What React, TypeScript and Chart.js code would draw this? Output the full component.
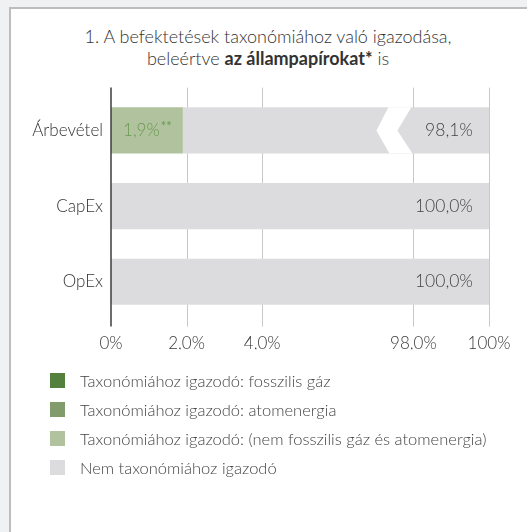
import React, { useEffect, useRef } from 'react';
import { Chart, registerables } from 'chart.js';

Chart.register(...registerables);

// ---- data ----
const categories = ['Árbevétel', 'CapEx', 'OpEx'];
const fossilGas = [0, 0, 0];
const nuclear = [0, 0, 0];
const alignedOther = [1.9, 0, 0];
const notAligned = [98.1, 100, 100];
const xTickValues = [0, 2, 4, 98, 100];
const xTickLabels = ['0%', '2,0%', '4,0%', '98,0%', '100%'];
const brokenBars = ['Árbevétel'];
const seriesNames = [
  'Taxonómiához igazodó: fosszilis gáz',
  'Taxonómiához igazodó: atomenergia',
  'Taxonómiához igazodó: (nem fosszilis gáz és atomenergia)',
  'Nem taxonómiához igazodó',
];
const seriesColors = ['#53803d', '#819b6b', '#b1c29e', '#dcdcde'];

const FONT = 'Lato, "Noto Sans", sans-serif';

// broken axis: 0..4 % -> 0..2 units, 98..100 % -> 4..5 units
const mapPct = (v: number) =>
  v <= 4 ? v / 2 : v >= 98 ? 4 + (v - 98) / 2 : 2 + ((v - 4) / 94) * 2;
const fmt = (v: number) => v.toFixed(1).replace('.', ',');

const seriesValues = [fossilGas, nuclear, alignedOther, notAligned];

function buildDatasets() {
  const cum = categories.map(() => 0);
  return seriesValues.map((vals, si) => {
    const data = vals.map((v, i) => {
      const s = cum[i];
      const e = s + v;
      cum[i] = e;
      return [mapPct(s), mapPct(e)];
    });
    return {
      label: seriesNames[si],
      data,
      backgroundColor: seriesColors[si],
      borderWidth: 0,
      barPercentage: 0.61,
      categoryPercentage: 1,
    };
  });
}

const customPlugin = {
  id: 'customDraw',
  beforeDatasetsDraw(chart: any) {
    const { ctx, chartArea, scales } = chart;
    const x = scales.x;
    ctx.save();
    ctx.strokeStyle = '#c8c8c8';
    ctx.lineWidth = 1;
    xTickValues.forEach((v, i) => {
      if (i === 0) return;
      const px = Math.round(x.getPixelForValue(mapPct(v))) + 0.5;
      ctx.beginPath();
      ctx.moveTo(px, chartArea.top - 5);
      ctx.lineTo(px, chartArea.bottom + 7);
      ctx.stroke();
    });
    ctx.restore();
  },
  afterDatasetsDraw(chart: any) {
    const { ctx, chartArea, scales } = chart;
    const x = scales.x;
    ctx.save();
    // break marks
    const gapPx = x.getPixelForValue(mapPct(98));
    const notMeta = chart.getDatasetMeta(3);
    categories.forEach((c, i) => {
      if (!brokenBars.includes(c)) return;
      const el = notMeta.data[i];
      const { y, height } = el.getProps(['y', 'height'], true);
      const t = y - height / 2;
      const b = y + height / 2;
      ctx.fillStyle = '#ffffff';
      ctx.beginPath();
      ctx.moveTo(gapPx - 25, t);
      ctx.lineTo(gapPx - 2, t);
      ctx.lineTo(gapPx - 16, y);
      ctx.lineTo(gapPx - 1, b);
      ctx.lineTo(gapPx - 24, b);
      ctx.lineTo(gapPx - 37, y);
      ctx.closePath();
      ctx.fill();
    });
    // data labels
    const alMeta = chart.getDatasetMeta(2);
    alignedOther.forEach((v, i) => {
      if (!v) return;
      const el = alMeta.data[i];
      const { x: ex, y, base } = el.getProps(['x', 'y', 'base'], true);
      const cx = (ex + base) / 2;
      const main = `${fmt(v)}%`;
      ctx.font = `300 17px ${FONT}`;
      const w1 = ctx.measureText(main).width;
      ctx.font = `400 13px ${FONT}`;
      const w2 = ctx.measureText('**').width;
      const start = cx - (w1 + w2) / 2;
      ctx.fillStyle = '#6a9a52';
      ctx.textBaseline = 'middle';
      ctx.textAlign = 'left';
      ctx.font = `300 17px ${FONT}`;
      ctx.fillText(main, start, y);
      ctx.font = `400 13px ${FONT}`;
      ctx.fillText('**', start + w1 + 1, y - 4);
    });
    notAligned.forEach((v, i) => {
      if (!v) return;
      const el = notMeta.data[i];
      const { x: ex, y } = el.getProps(['x', 'y'], true);
      ctx.fillStyle = '#444444';
      ctx.textBaseline = 'middle';
      ctx.textAlign = 'right';
      ctx.font = `300 17.5px ${FONT}`;
      ctx.fillText(`${fmt(v)}%`, ex - 16, y);
    });
    // axis line
    const ax = x.getPixelForValue(0);
    ctx.strokeStyle = '#3c3c3c';
    ctx.lineWidth = 1.5;
    ctx.beginPath();
    ctx.moveTo(ax, chartArea.top - 5);
    ctx.lineTo(ax, chartArea.bottom + 7);
    ctx.stroke();
    ctx.restore();
  },
};

export default function App() {
  const ref = useRef<HTMLCanvasElement>(null);
  useEffect(() => {
    if (!ref.current) return;
    const chart = new Chart(ref.current, {
      type: 'bar',
      data: { labels: categories, datasets: buildDatasets() as any },
      options: {
        indexAxis: 'y',
        animation: false,
        responsive: false,
        maintainAspectRatio: false,
        devicePixelRatio: 1,
        layout: { padding: { top: 92.6, left: 0, right: 38, bottom: 50.4 } },
        plugins: { legend: { display: false }, tooltip: { enabled: false } },
        scales: {
          x: {
            type: 'linear',
            min: 0,
            max: 5,
            stacked: false,
            grid: { display: false, drawTicks: false },
            border: { display: false },
            afterBuildTicks: (scale: any) => {
              scale.ticks = xTickValues.map((v) => ({ value: mapPct(v) }));
            },
            afterFit: (scale: any) => {
              scale.height = 30;
            },
            ticks: {
              padding: 14,
              color: '#3a3a3a',
              font: { family: FONT, size: 17, weight: 300 as any },
              maxRotation: 0,
              autoSkip: false,
              callback: (_v: any, idx: number) => xTickLabels[idx],
            },
          },
          y: {
            stacked: true,
            grid: { display: false, drawTicks: false },
            border: { display: false },
            afterFit: (scale: any) => {
              scale.width = 111;
            },
            ticks: {
              padding: 8,
              color: '#333333',
              font: { family: FONT, size: 17, weight: 300 as any },
            },
          },
        },
      },
      plugins: [customPlugin],
    });
    return () => chart.destroy();
  }, []);

  return (
    <div
      style={{
        position: 'fixed',
        inset: 0,
        background: '#f0f1f3',
        overflow: 'hidden',
        fontFamily: FONT,
      }}
    >
      <div
        style={{
          position: 'absolute',
          left: 9,
          top: 7,
          width: 700,
          height: 700,
          background: '#ffffff',
          borderLeft: '2px solid #bdbdbd',
          borderTop: '2px solid #bdbdbd',
        }}
      />
      <div
        style={{
          position: 'absolute',
          left: 9,
          width: 518,
          top: 25,
          textAlign: 'center',
          fontSize: 18,
          lineHeight: '22px',
          fontWeight: 300,
          color: '#333',
        }}
      >
        1. A befektetések taxonómiához való igazodása,
        <br />
        beleértve <b style={{ fontWeight: 700 }}>az állampapírokat*</b> is
      </div>
      <canvas
        ref={ref}
        width={527}
        height={400}
        style={{ position: 'absolute', left: 0, top: 0, width: 527, height: 400 }}
      />
      {seriesNames.map((n, i) => (
        <div
          key={n}
          style={{
            position: 'absolute',
            left: 50,
            top: 373 + i * 29,
            height: 15,
            display: 'flex',
            alignItems: 'center',
            whiteSpace: 'nowrap',
          }}
        >
          <span
            style={{
              display: 'inline-block',
              flex: 'none',
              width: 15,
              height: 15,
              background: seriesColors[i],
              marginRight: 15,
            }}
          />
          <span style={{ fontSize: 16.5, fontWeight: 300, color: '#444' }}>{n}</span>
        </div>
      ))}
    </div>
  );
}
